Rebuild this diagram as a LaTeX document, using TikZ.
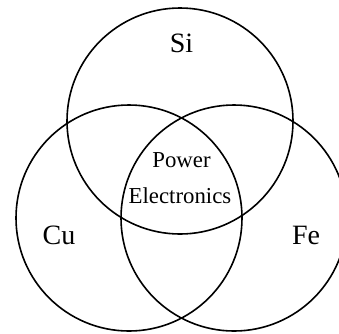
\documentclass[tikz,border=0pt]{standalone}
\usepackage{fontspec}
\setmainfont{Liberation Serif}
\begin{document}
\begin{tikzpicture}[x=1pt,y=-1pt,
  ring/.style={draw=black,line width=1.6pt},
  biglabel/.style={anchor=base,inner sep=0pt,font=\fontsize{28}{32}\selectfont},
  smalllabel/.style={anchor=base,inner sep=0pt,font=\fontsize{22.8}{27}\selectfont}]
\useasboundingbox (0,0) rectangle (339,333);
\coordinate (top) at (180,121);
\coordinate (left) at (129,218);
\coordinate (right) at (234,218);
\begin{scope}
\clip (0,0) rectangle (339,333);
\draw[ring] (top) circle[radius=113];
\draw[ring] (left) circle[radius=113];
\draw[ring] (right) circle[radius=113];
\end{scope}
\node[biglabel] (si) at (181.5,52) {Si};
\node[biglabel] (cu) at (59,244) {Cu};
\node[biglabel] (fe) at (306,244) {Fe};
\node[smalllabel] (pw) at (181.5,167) {Power};
\node[smalllabel] (el) at (180,203) {Electronics};
\end{tikzpicture}
\end{document}
